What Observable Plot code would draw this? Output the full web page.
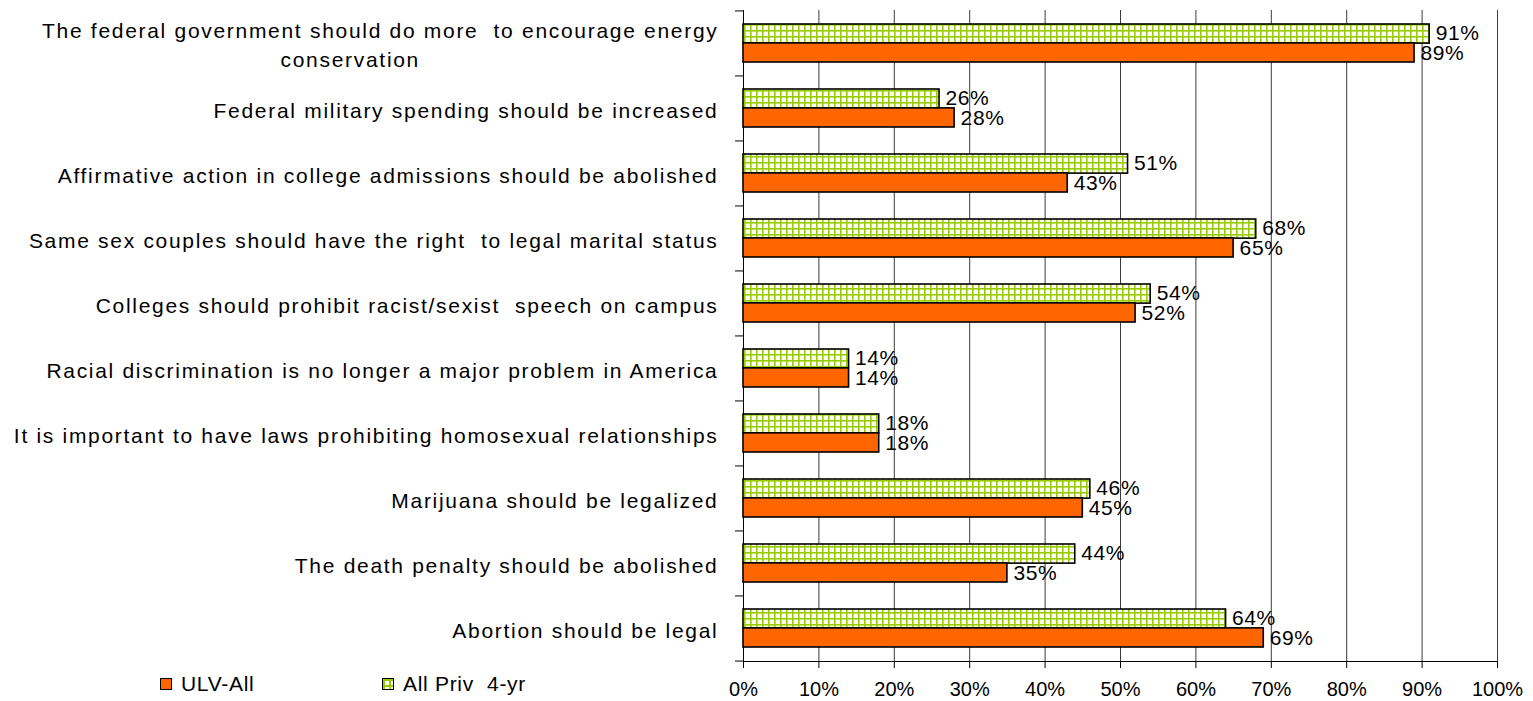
<!DOCTYPE html>
<html>
<head>
<meta charset="utf-8">
<script src="https://cdn.jsdelivr.net/npm/d3@7"></script>
<script src="https://cdn.jsdelivr.net/npm/@observablehq/plot@0.6"></script>
<style>
  body { margin: 0; background: #fff; }
  #chart { position: relative; width: 1533px; height: 701px; font-family: "Liberation Sans", Arial, sans-serif; }
  .legend { position: absolute; top: 672px; left: 160px; font-size: 21px; letter-spacing: 0.7px; color: #000; display: flex; align-items: center; }
  .legend .item { display: flex; align-items: center; }
  .legend .swatch { width: 10px; height: 10px; border: 1.5px solid #000; margin-right: 9px; }
  .sw-ulv { background: #ff6600; }
  .sw-priv {
    background-color: #fff;
    background-image:
      linear-gradient(to right, #99cc00 0 2px, transparent 2px),
      linear-gradient(to bottom, #99cc00 0 2px, transparent 2px);
    background-size: 6px 6px;
  }
</style>
</head>
<body>
<div id="chart"></div>
<script>
// Survey statements, top to bottom
const statements = [
  "The federal government should do more  to encourage energy\nconservation",
  "Federal military spending should be increased",
  "Affirmative action in college admissions should be abolished",
  "Same sex couples should have the right  to legal marital status",
  "Colleges should prohibit racist/sexist  speech on campus",
  "Racial discrimination is no longer a major problem in America",
  "It is important to have laws prohibiting homosexual relationships",
  "Marijuana should be legalized",
  "The death penalty should be abolished",
  "Abortion should be legal"
];

// Percent agreeing, by group
const ulvAll     = [89, 28, 43, 65, 52, 14, 18, 45, 35, 69];
const allPriv4yr = [91, 26, 51, 68, 54, 14, 18, 46, 44, 64];

const seriesNames = ["ULV-All", "All Priv  4-yr"];
const xTicks = [0, 10, 20, 30, 40, 50, 60, 70, 80, 90, 100];

const ulvRows  = statements.map((s, i) => ({statement: s, value: ulvAll[i], series: seriesNames[0]}));
const privRows = statements.map((s, i) => ({statement: s, value: allPriv4yr[i], series: seriesNames[1]}));

const W = 1533, H = 701;
const margin = {top: 10, right: 36, bottom: 40, left: 743};
const padInner = 0.42;
const step = (H - margin.top - margin.bottom) / statements.length;
const bw = step * (1 - padInner);
const last = statements[statements.length - 1];
const wrapShift = 30; // wrapped label block sits a little left of its first line's centre

const gridPattern = () => {
  const ns = "http://www.w3.org/2000/svg";
  const defs = document.createElementNS(ns, "defs");
  defs.innerHTML = `
    <pattern id="smallgrid" patternUnits="userSpaceOnUse" width="6" height="6">
      <rect width="6" height="6" fill="#ffffff"/>
      <rect width="1.6" height="6" fill="#99cc00"/>
      <rect width="6" height="1.6" fill="#99cc00"/>
    </pattern>`;
  return defs;
};

const chart = Plot.plot({
  width: W,
  height: H,
  marginTop: margin.top,
  marginRight: margin.right,
  marginBottom: margin.bottom,
  marginLeft: margin.left,
  style: {fontFamily: "'Liberation Sans', Arial, sans-serif", fontSize: "20px", color: "#000", background: "#fff"},
  x: {domain: [0, 100], ticks: xTicks, label: null},
  y: {domain: statements, paddingInner: padInner, paddingOuter: padInner / 2, axis: null, label: null},
  marks: [
    gridPattern,
    // vertical gridlines
    Plot.ruleX(xTicks, {x: d => d, stroke: "#3c3c3c", strokeWidth: 1}),
    // x axis with percent labels
    Plot.axisX({ticks: xTicks, tickSize: 7, tickPadding: 13, tickFormat: d => d + "%", fontSize: 20, stroke: "#000", label: null}),
    // bottom axis line
    Plot.frame({anchor: "bottom", stroke: "#000"}),
    // left axis line
    Plot.ruleX([0], {stroke: "#000", strokeWidth: 1}),
    // category boundary ticks on the y axis
    Plot.axisY({ticks: statements, tickSize: 8, tickFormat: () => "", dy: -step / 2, stroke: "#000", label: null}),
    Plot.axisY({ticks: [last], tickSize: 8, tickFormat: () => "", dy: step / 2, stroke: "#000", label: null}),
    // statement labels
    Plot.text(statements, {
      y: d => d, frameAnchor: "left", textAnchor: "end", dx: -25,
      text: d => d, fontSize: 21, fill: "#000", lineHeight: 1.38
    }),
    // bars
    Plot.barX(privRows, {x: "value", y: "statement", fill: "url(#smallgrid)", stroke: "#000", strokeWidth: 1.6, insetBottom: bw / 2}),
    Plot.barX(ulvRows, {x: "value", y: "statement", fill: "#ff6600", stroke: "#000", strokeWidth: 1.6, insetTop: bw / 2}),
    // value labels
    Plot.text(privRows, {x: "value", y: "statement", text: d => d.value + "%", textAnchor: "start", dx: 6, dy: -bw / 4 - 1, fontSize: 21, fill: "#000"}),
    Plot.text(ulvRows, {x: "value", y: "statement", text: d => d.value + "%", textAnchor: "start", dx: 6, dy: bw / 4, fontSize: 21, fill: "#000"})
  ]
});

document.getElementById("chart").appendChild(chart);

// Text mark groups, in mark order: statement labels, then the two value-label sets
const textGroups = chart.querySelectorAll('g[aria-label="text"]');
if (textGroups[0]) textGroups[0].style.letterSpacing = "1.7px";
if (textGroups[1]) textGroups[1].style.letterSpacing = "0.6px";
if (textGroups[2]) textGroups[2].style.letterSpacing = "0.6px";

// Center the continuation line of the wrapped statement under its first line
if (textGroups[0]) {
  textGroups[0].querySelectorAll("text").forEach(t => {
    const spans = t.querySelectorAll("tspan");
    if (spans.length > 1) {
      const w = spans[0].getComputedTextLength();
      t.setAttribute("text-anchor", "middle");
      spans[0].setAttribute("x", -w / 2);
      for (let i = 1; i < spans.length; ++i) spans[i].setAttribute("x", -w / 2 - wrapShift);
    }
  });
}

// Legend
const legend = document.createElement("div");
legend.className = "legend";
legend.innerHTML = `
  <div class="item" style="width:222px"><span class="swatch sw-ulv"></span><span>${seriesNames[0]}</span></div>
  <div class="item"><span class="swatch sw-priv"></span><span style="white-space:pre">${seriesNames[1]}</span></div>`;
document.getElementById("chart").appendChild(legend);
</script>
</body>
</html>
